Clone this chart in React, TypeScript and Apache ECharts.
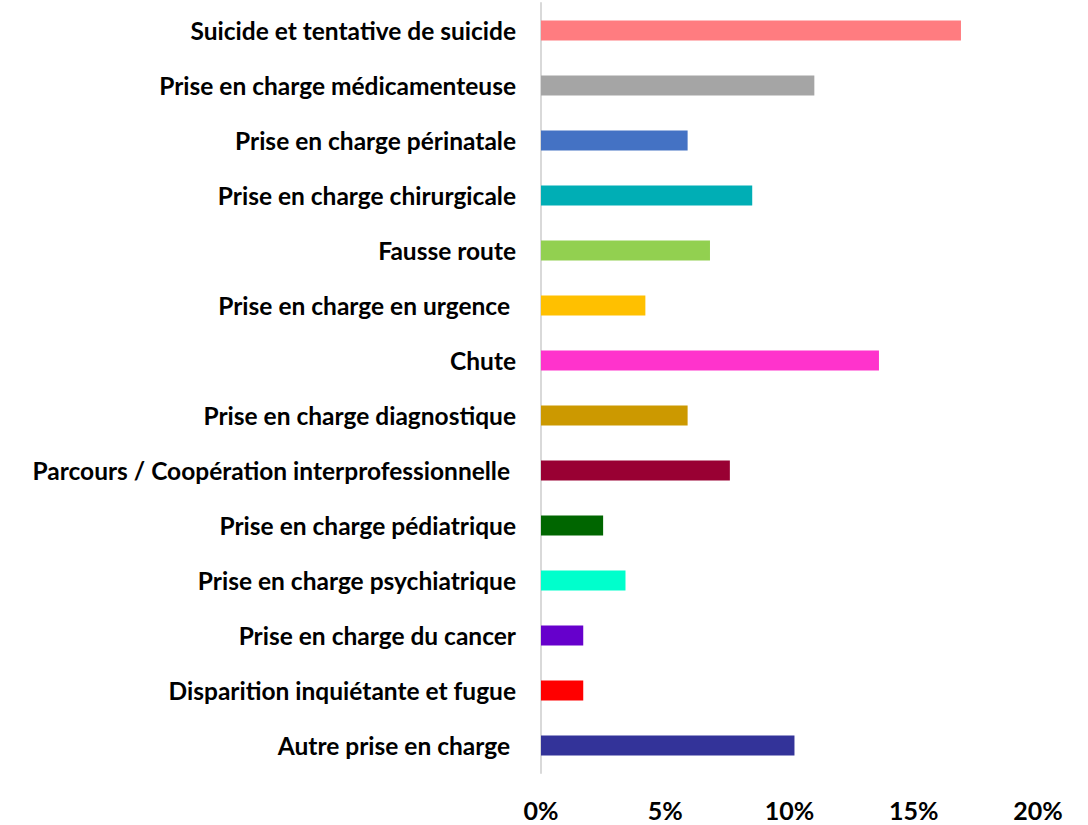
import React, { useEffect, useRef } from "react";
import * as echarts from "echarts";

const categories = [
  "Suicide et tentative de suicide",
  "Prise en charge médicamenteuse",
  "Prise en charge périnatale",
  "Prise en charge chirurgicale",
  "Fausse route",
  "Prise en charge en urgence ",
  "Chute",
  "Prise en charge diagnostique",
  "Parcours / Coopération interprofessionnelle ",
  "Prise en charge pédiatrique",
  "Prise en charge psychiatrique",
  "Prise en charge du cancer",
  "Disparition inquiétante et fugue",
  "Autre prise en charge ",
];

const values = [16.9, 11.0, 5.9, 8.5, 6.8, 4.2, 13.6, 5.9, 7.6, 2.5, 3.4, 1.7, 1.7, 10.2];

const colors = [
  "#FF7C80",
  "#A5A5A5",
  "#4472C4",
  "#00AEB5",
  "#92D050",
  "#FFC000",
  "#FF33CC",
  "#CC9900",
  "#990033",
  "#006600",
  "#00FFCC",
  "#6600CC",
  "#FF0000",
  "#333399",
];

const xTicks = [0, 5, 10, 15, 20];

export default function App() {
  const ref = useRef<HTMLDivElement>(null);
  useEffect(() => {
    if (!ref.current) return;
    const chart = echarts.init(ref.current, null, { renderer: "svg" });
    chart.setOption({
      animation: false,
      backgroundColor: "#ffffff",
      grid: { left: 541, right: 50, top: 3, bottom: 52, containLabel: false },
      xAxis: {
        type: "value",
        min: xTicks[0],
        max: xTicks[xTicks.length - 1],
        interval: 5,
        axisLine: { show: false },
        axisTick: { show: false },
        splitLine: { show: false },
        axisLabel: {
          formatter: (v: number) => v + "%",
          fontFamily: "Lato",
          fontWeight: "bold",
          fontSize: 25,
          color: "#000",
          margin: 24,
        },
      },
      yAxis: {
        type: "category",
        data: categories,
        inverse: true,
        axisLine: { show: true, lineStyle: { color: "#D9D9D9", width: 2 } },
        axisTick: { show: false },
        axisLabel: {
          fontFamily: "Lato",
          fontWeight: "bold",
          fontSize: 24.5,
          color: "#000",
          margin: 25,
        },
      },
      series: [
        {
          type: "bar",
          barWidth: 20,
          data: values.map((v, i) => ({ value: v, itemStyle: { color: colors[i] } })),
        },
      ],
    });
    return () => chart.dispose();
  }, []);
  return (
    <div
      ref={ref}
      style={{ position: "fixed", left: 0, top: 0, width: 1088, height: 825, background: "#fff" }}
    />
  );
}
